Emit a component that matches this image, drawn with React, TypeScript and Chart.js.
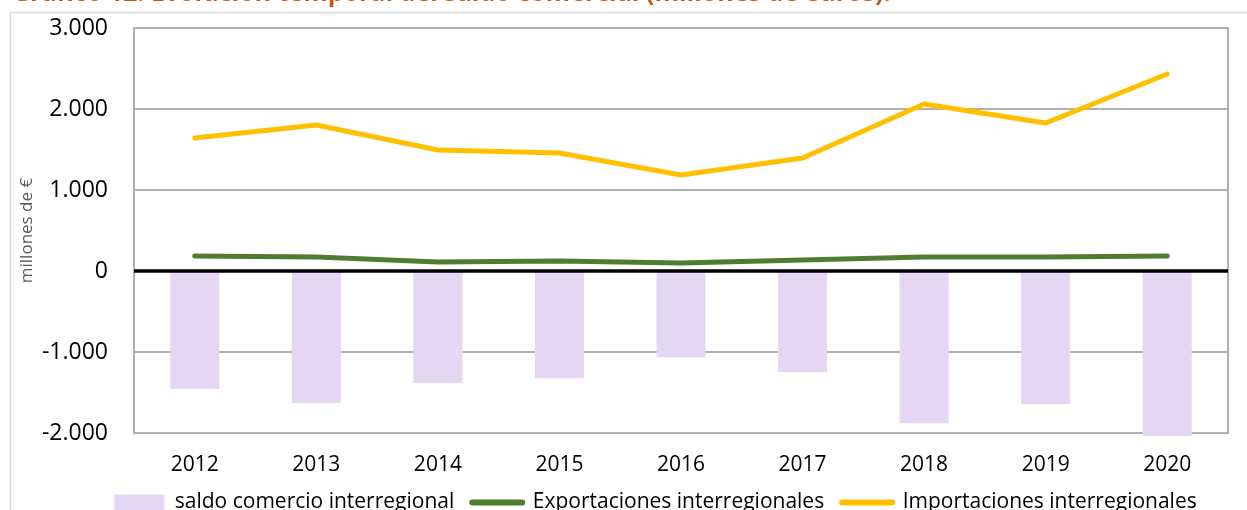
import React, { useEffect, useRef } from "react";
import { Chart, registerables } from "chart.js";

Chart.register(...registerables);

// ---- data ----
const years = ["2012", "2013", "2014", "2015", "2016", "2017", "2018", "2019", "2020"];
const saldoComercio = [-1457, -1630, -1383, -1325, -1065, -1250, -1880, -1645, -2037];
const exportaciones = [185, 173, 111, 123, 99, 136, 173, 173, 185];
const importaciones = [1642, 1802, 1494, 1457, 1185, 1395, 2062, 1827, 2432];
const yTickValues = [-2000, -1000, 0, 1000, 2000, 3000];

const titleText = "Gráfico 12. Evolución temporal del saldo comercial (millones de euros).";
const yAxisTitle = "millones de €";
const seriesNames = [
  "saldo comercio interregional",
  "Exportaciones interregionales",
  "Importaciones interregionales",
];

const BAR_COLOR = "#e5d6f2";
const GREEN = "#507c31";
const YELLOW = "#ffc000";
const GRID = "#b0b0b0";
const FONT = "'Open Sans', 'Noto Sans', sans-serif";

const fmt = (v: number) => {
  const s = Math.abs(v).toString().replace(/\B(?=(\d{3})+(?!\d))/g, ".");
  return (v < 0 ? "-" : "") + s;
};

const CANVAS_W = 1299;
const CANVAS_H = 543;

const framePlugin = {
  id: "frameAndBorders",
  beforeDraw(chart: any) {
    const ctx = chart.ctx;
    ctx.save();
    ctx.strokeStyle = "#d9d9d9";
    ctx.lineWidth = 1.5;
    ctx.strokeRect(10.5, 32.5, 3000, 3000);
    ctx.restore();
  },
  beforeDatasetsDraw(chart: any) {
    const { ctx, chartArea } = chart;
    ctx.save();
    ctx.strokeStyle = GRID;
    ctx.lineWidth = 2;
    ctx.strokeRect(chartArea.left, chartArea.top, chartArea.right - chartArea.left, chartArea.bottom - chartArea.top);
    ctx.restore();
  },
  afterDatasetsDraw(chart: any) {
    const { ctx, chartArea } = chart;
    const y = chart.scales.y.getPixelForValue(0);
    ctx.save();
    ctx.strokeStyle = "#000";
    ctx.lineWidth = 3.5;
    ctx.beginPath();
    ctx.moveTo(chartArea.left, y);
    ctx.lineTo(chartArea.right, y);
    ctx.stroke();
    ctx.restore();
  },
};

export default function App() {
  const ref = useRef<HTMLCanvasElement | null>(null);

  useEffect(() => {
    if (!ref.current) return;
    const chart = new Chart(ref.current, {
      type: "bar",
      data: {
        labels: years,
        datasets: [
          {
            type: "bar",
            label: seriesNames[0],
            data: saldoComercio,
            backgroundColor: BAR_COLOR,
            borderWidth: 0,
            barPercentage: 0.403,
            categoryPercentage: 1,
            order: 3,
            clip: false as any,
            yAxisID: "y",
          },
          {
            type: "line",
            label: seriesNames[1],
            data: exportaciones,
            borderColor: GREEN,
            backgroundColor: GREEN,
            borderWidth: 5,
            borderCapStyle: "round",
            borderJoinStyle: "round",
            pointRadius: 0,
            tension: 0,
            order: 1,
            yAxisID: "y",
          },
          {
            type: "line",
            label: seriesNames[2],
            data: importaciones,
            borderColor: YELLOW,
            backgroundColor: YELLOW,
            borderWidth: 5,
            borderCapStyle: "round",
            borderJoinStyle: "round",
            pointRadius: 0,
            tension: 0,
            order: 2,
            yAxisID: "y",
          },
        ] as any,
      },
      options: {
        responsive: false,
        maintainAspectRatio: false,
        animation: false,
        devicePixelRatio: 1,
        layout: { padding: { left: 12, top: 0, right: 0, bottom: 0 } },
        plugins: {
          tooltip: { enabled: false },
          title: {
            display: true,
            text: titleText,
            align: "start",
            color: "#c55a11",
            font: { family: FONT, size: 25, weight: "bold", lineHeight: 1 },
            padding: { top: 1, bottom: 22 },
          },
          legend: {
            display: true,
            position: "bottom",
            align: "center",
            labels: {
              usePointStyle: true,
              pointStyleWidth: 50,
              boxHeight: 16,
              padding: 18,
              color: "#000",
              font: { family: FONT, size: 21 },
              generateLabels: () => [
                { text: seriesNames[0], fillStyle: BAR_COLOR, strokeStyle: BAR_COLOR, lineWidth: 0, pointStyle: "rect", datasetIndex: 0, hidden: false },
                { text: seriesNames[1], fillStyle: GREEN, strokeStyle: GREEN, lineWidth: 6, lineCap: "round", pointStyle: "line", datasetIndex: 1, hidden: false },
                { text: seriesNames[2], fillStyle: YELLOW, strokeStyle: YELLOW, lineWidth: 6, lineCap: "round", pointStyle: "line", datasetIndex: 2, hidden: false },
              ] as any,
            },
          },
        },
        scales: {
          x: {
            grid: { display: false, drawTicks: false },
            border: { display: false },
            ticks: {
              color: "#000",
              padding: 19,
              font: { family: FONT, size: 21 },
            },
            afterFit: (s: any) => {
              s.height = 41;
            },
          },
          y: {
            position: "left",
            min: -2000,
            max: 3000,
            afterBuildTicks: (s: any) => {
              s.ticks = yTickValues.map((v) => ({ value: v }));
            },
            grid: { color: GRID, lineWidth: 2, drawTicks: false },
            border: { display: false },
            ticks: {
              color: "#000",
              padding: 26,
              font: { family: FONT, size: 23 },
              callback: (v: any) => fmt(Number(v)),
            },
            title: {
              display: true,
              text: yAxisTitle,
              color: "#595959",
              font: { family: FONT, size: 17, lineHeight: 1.2 },
              padding: { top: 5.3, bottom: 0 },
            },
            afterFit: (s: any) => {
              s.width = 122;
            },
          },
          yR: {
            type: "linear",
            position: "right",
            display: true,
            grid: { display: false, drawTicks: false },
            border: { display: false },
            ticks: { display: false },
            afterFit: (s: any) => {
              s.width = 71;
            },
          },
        },
      } as any,
      plugins: [framePlugin],
    });
    return () => chart.destroy();
  }, []);

  return (
    <div
      style={{
        position: "absolute",
        left: 0,
        top: 0,
        width: 1247,
        height: 510,
        overflow: "hidden",
        background: "#fff",
      }}
    >
      <canvas
        ref={ref}
        width={CANVAS_W}
        height={CANVAS_H}
        style={{ position: "absolute", left: 0, top: -20, width: CANVAS_W, height: CANVAS_H }}
      />
    </div>
  );
}
